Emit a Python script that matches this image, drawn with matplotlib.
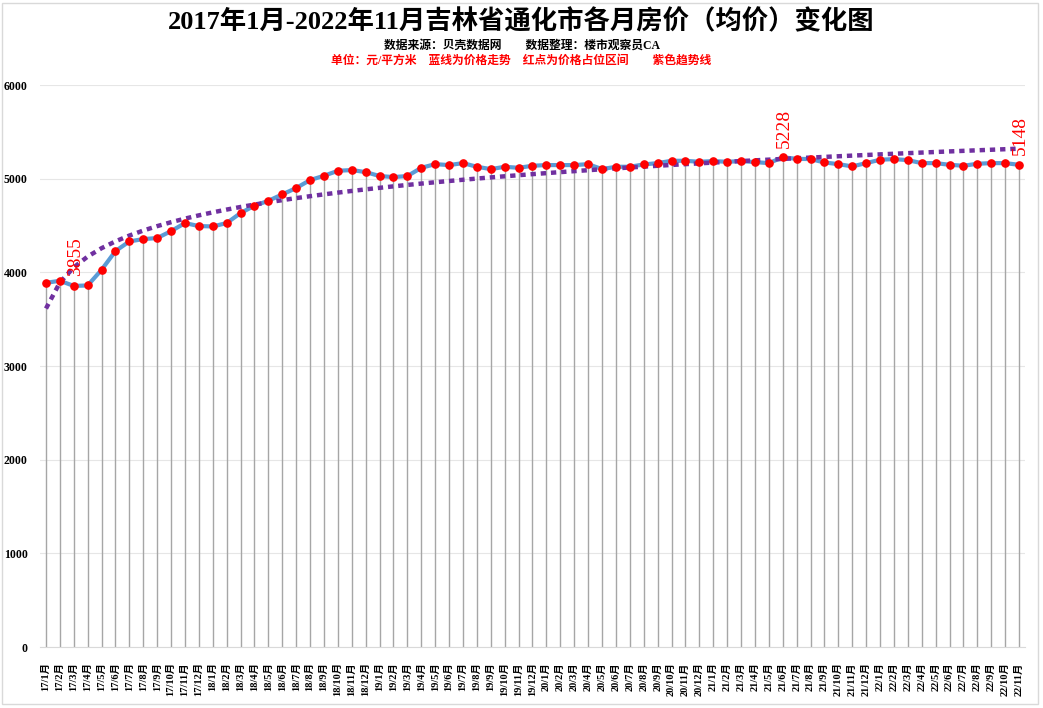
import numpy as np
import matplotlib
matplotlib.use("Agg")
import matplotlib.pyplot as plt
from matplotlib.patches import Rectangle

years = ["17", "18", "19", "20", "21", "22"]
months = [f"{y}/{m}月" for y in years for m in range(1, 13)][:71]

prices = [3888, 3910, 3855, 3860, 4027, 4227, 4330, 4355, 4366, 4440,
          4526, 4494, 4490, 4526, 4633, 4711, 4764, 4832, 4900, 4985,
          5031, 5084, 5092, 5070, 5028, 5017, 5028, 5116, 5155, 5145,
          5166, 5127, 5102, 5127, 5116, 5138, 5145, 5145, 5145, 5155,
          5102, 5127, 5127, 5152, 5166, 5191, 5191, 5180, 5188, 5180,
          5188, 5177, 5166, 5228, 5212, 5209, 5173, 5155, 5131, 5166,
          5202, 5209, 5198, 5166, 5166, 5148, 5138, 5159, 5166, 5166,
          5148]

yticks = [0, 1000, 2000, 3000, 4000, 5000, 6000]

title = "2017年1月-2022年11月吉林省通化市各月房价（均价）变化图"
sub1 = "数据来源：贝壳数据网        数据整理：楼市观察员CA"
sub2 = "单位：元/平方米    蓝线为价格走势    红点为价格占位区间        紫色趋势线"

SERIF = ['Liberation Serif', 'Noto Sans CJK SC', 'DejaVu Sans']
plt.rcParams['font.family'] = SERIF

fig = plt.figure(figsize=(10.43, 7.08), dpi=100)
ax = fig.add_axes([40/1043, 1-647/708, (1025-40)/1043, (647-85)/708])

x = np.arange(len(prices))
y = np.array(prices, dtype=float)

# drop lines
ax.vlines(x, 0, y, color='#A6A6A6', lw=1.0, zorder=2)

# log trend line
coef = np.polyfit(np.log(x + 1), y, 1)
trend = coef[1] + coef[0] * np.log(x + 1)
ax.plot(x, trend, color='#7030A0', lw=3.2, linestyle=(0, (1.2, 1.1)),
        dash_capstyle='butt', zorder=4)

ax.plot(x, y, color='#5B9BD5', lw=3.0, zorder=3, solid_joinstyle='round')
ax.plot(x, y, 'o', color='#FF0000', ms=5.2, zorder=5)

# labels: min, max, last
for idx in sorted({int(np.argmin(y)), int(np.argmax(y)), len(y) - 1}):
    ax.annotate(f"{prices[idx]}", (x[idx], y[idx]), xytext=(1, 7),
                textcoords='offset points', rotation=90, ha='center',
                va='bottom', color='#FF0000', fontsize=14,
                family=SERIF, zorder=6)

ax.set_xlim(-0.43, len(prices) - 1 + 0.43)
ax.set_ylim(0, 6000)
ax.set_yticks(yticks)
ax.set_yticklabels([str(t) for t in yticks], fontsize=8.5, fontweight='bold')
ax.set_xticks(x)
ax.set_xticklabels(months, rotation=90, fontsize=7.5, fontweight='bold',
                   va='top', ha='center')
ax.tick_params(axis='y', length=0, pad=9)
ax.tick_params(axis='x', length=0, pad=11)
ax.grid(axis='y', color='#E6E6E6', lw=0.8, zorder=0)
ax.set_axisbelow(True)
for s in ['left', 'right', 'top']:
    ax.spines[s].set_visible(False)
ax.spines['bottom'].set_color('#D9D9D9')

fig.text(0.5, 1-22/708, title, ha='center', va='center', fontsize=19,
         fontweight='bold', family=SERIF)
fig.text(0.5, 1-46/708, sub1, ha='center', va='center', fontsize=8.5,
         fontweight='bold', family=SERIF)
fig.text(0.5, 1-61/708, sub2, ha='center', va='center', fontsize=8.5,
         fontweight='bold', color='#FF0000', family=SERIF)

fig.patches.append(Rectangle((0.002, 0.006), 0.993, 0.99, transform=fig.transFigure,
                             fill=False, edgecolor='#D9D9D9', lw=1))

fig.savefig("out.png", dpi=100)
